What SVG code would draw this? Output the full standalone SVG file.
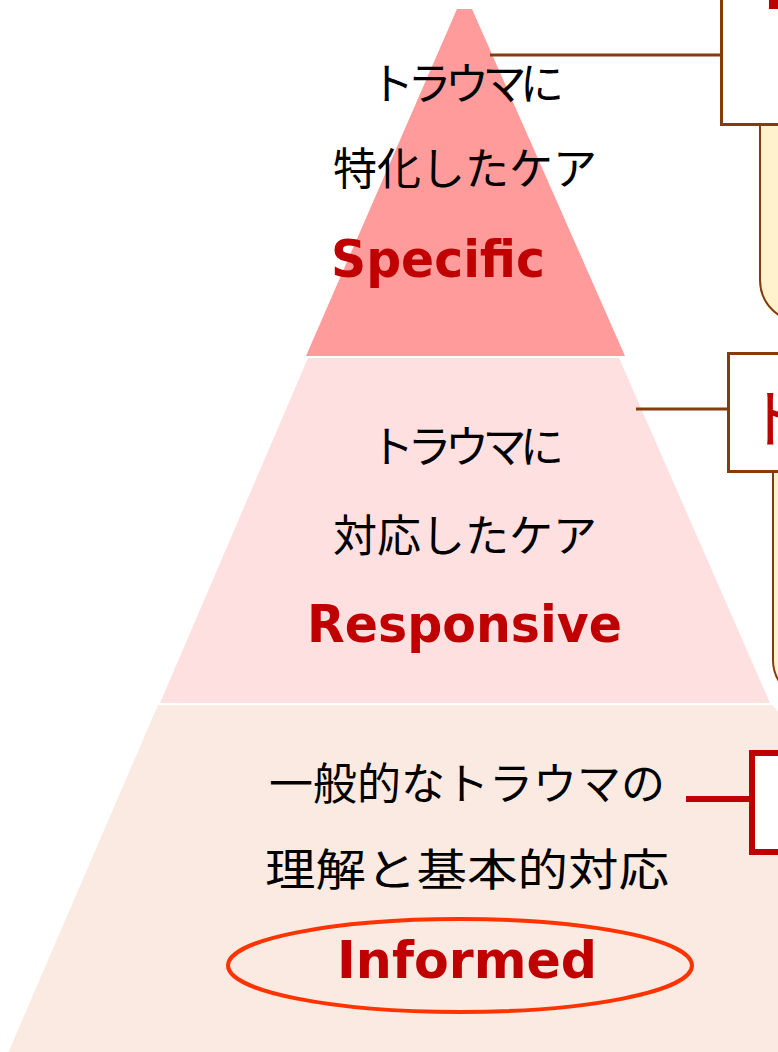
<svg xmlns="http://www.w3.org/2000/svg" width="778" height="1052" viewBox="0 0 778 1052">
<style>
.jp{font-family:"Noto Sans CJK JP","Noto Sans",sans-serif;font-size:44px;fill:#000;text-anchor:middle}
.js{font-family:"Noto Sans CJK JP","Noto Sans",sans-serif;font-size:44px;fill:#000}
.en{font-family:"DejaVu Sans","Liberation Sans",sans-serif;font-weight:bold;font-size:52px;fill:#C00000}
.brown{fill:none;stroke:#843C0C;stroke-width:3}
.box{fill:#fff;stroke:#843C0C;stroke-width:3}
.note{fill:#FFF2CC;stroke:#843C0C;stroke-width:2}
</style>
<rect width="778" height="1052" fill="#fff"/>
<g id="tier-specific">
<polygon points="457,9 472,9 625,356 306,356" fill="#FF9B9B"/>
<text class="js" x="370" y="100" textLength="194">トラウマに</text>
<text class="jp" x="465" y="185">特化したケア</text>
<text class="en" x="331" y="277" textLength="214" lengthAdjust="spacingAndGlyphs">Specific</text>
</g>
<g id="tier-responsive">
<polygon points="308,358 619,358 770,703 160,703" fill="#FFE0E1"/>
<text class="js" x="370" y="463" textLength="194">トラウマに</text>
<text class="jp" x="465" y="552">対応したケア</text>
<text class="en" x="307" y="642" textLength="315" lengthAdjust="spacingAndGlyphs">Responsive</text>
</g>
<g id="tier-informed">
<polygon points="158,705 772,705 1100,1060 5,1060" fill="#FBEAE1"/>
<text class="jp" x="467" y="800">一般的なトラウマの</text>
<text class="js" x="265" y="886" font-size="50" textLength="404" lengthAdjust="spacingAndGlyphs">理解と基本的対応</text>
<ellipse cx="460" cy="965.5" rx="232" ry="46.5" fill="none" stroke="#FF3300" stroke-width="4"/>
<text class="en" x="337" y="978" textLength="260" lengthAdjust="spacingAndGlyphs">Informed</text>
</g>
<g id="connectors">
<line x1="490" y1="55" x2="721" y2="55" class="brown"/>
<line x1="636" y1="409" x2="728" y2="409" class="brown"/>
<line x1="686" y1="799" x2="752" y2="799" stroke="#C00000" stroke-width="6"/>
</g>
<g id="note-top">
<path d="M760,124 V280 A42,42 0 0 0 802,322 H830 V124 Z" class="note"/>
</g>
<g id="box-top">
<rect x="721.5" y="-10" width="80" height="134.5" class="box"/>
<text x="729" y="4" font-family="Noto Sans CJK JP, sans-serif" font-size="60" fill="#C00000">【</text>
</g>
<g id="note-middle">
<path d="M773,472 V660 A40,40 0 0 0 813,700 H830 V472 Z" class="note"/>
</g>
<g id="box-middle">
<rect x="728.5" y="353.5" width="80" height="118" class="box"/>
<text x="746" y="442" font-family="Noto Sans CJK JP, sans-serif" font-size="64" fill="#C00000">ト</text>
</g>
<g id="box-bottom">
<rect x="752" y="753" width="60" height="99" fill="#fff" stroke="#C00000" stroke-width="6"/>
</g>
</svg>
